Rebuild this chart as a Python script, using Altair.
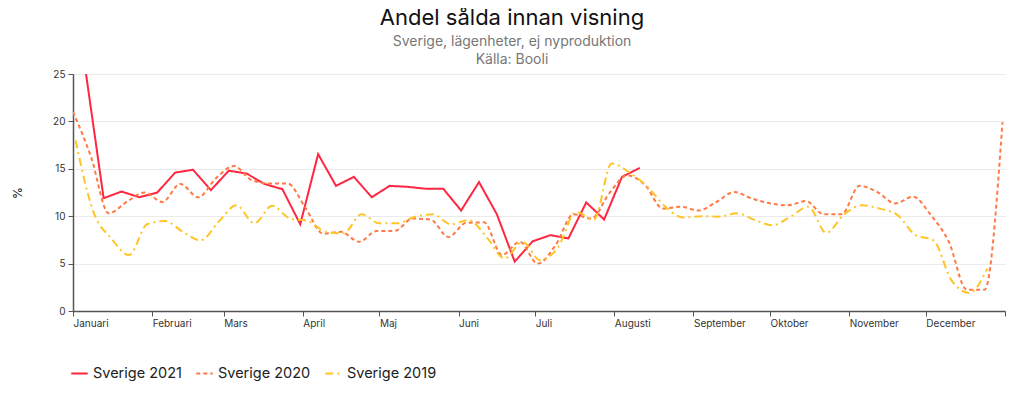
import altair as alt
import pandas as pd

# Serier (veckovärden, andel % sålda innan visning)
serier = ["Sverige 2021", "Sverige 2020", "Sverige 2019"]
farger = ["#ff2640", "#ff7a45", "#ffc425"]
streck = [[1, 0], [4, 3], [8, 4, 2, 4]]

# första veckodatum för varje serie, placerat på en gemensam årsaxel
start_2021 = "2021-01-06"
start_2020 = "2021-01-01"
start_2019 = "2021-01-02"

varden_2021 = [25.2, 11.9, 12.6, 12.0, 12.5, 14.6, 14.9, 12.75, 14.8, 14.5,
               13.4, 12.85, 9.15, 16.55, 13.2, 14.15, 12.0, 13.2, 13.1, 12.9,
               12.9, 10.6, 13.6, 10.2, 5.2, 7.35, 8.0, 7.65, 11.45, 9.65,
               14.15, 15.1]

varden_2020 = [21.0, 16.3, 10.3, 11.5, 12.5, 11.5, 13.4, 12.0, 14.0, 15.3,
               13.8, 13.45, 13.45, 10.9, 8.15, 8.35, 7.3, 8.45, 8.45, 9.75,
               9.65, 7.8, 9.3, 9.35, 5.9, 7.3, 5.0, 6.95, 10.2, 9.75,
               12.4, 14.3, 13.3, 10.8, 11.0, 10.6, 11.5, 12.55, 11.85, 11.35,
               11.15, 11.6, 10.2, 10.2, 13.2, 12.55, 11.35, 12.05, 10.1, 7.3,
               2.25, 2.25, 19.9]

varden_2019 = [18.0, 10.45, 7.65, 5.9, 9.15, 9.5, 8.35, 7.45, 9.4, 11.15,
               9.25, 11.1, 9.75, 9.5, 8.35, 8.2, 10.2, 9.25, 9.25, 9.95,
               10.2, 9.15, 9.6, 7.8, 5.55, 7.3, 5.35, 6.75, 10.45, 9.65,
               15.55, 14.6, 13.1, 11.0, 9.85, 10.0, 9.95, 10.3, 9.6, 9.05,
               9.95, 11.0, 8.25, 10.2, 11.15, 10.8, 10.1, 8.0, 7.45, 3.25,
               1.9, 4.45]

manader = ["Januari", "Februari", "Mars", "April", "Maj", "Juni", "Juli",
           "Augusti", "September", "Oktober", "November", "December"]
y_ticks = [0, 5, 10, 15, 20, 25]


def bygg(serie, start, varden):
    d0 = pd.Timestamp(start)
    return pd.DataFrame({
        "datum": [(d0 + pd.Timedelta(days=7 * i)).strftime("%Y-%m-%d") for i in range(len(varden))],
        "andel": varden,
        "serie": serie,
    })


df = pd.concat([
    bygg(serier[0], start_2021, varden_2021),
    bygg(serier[1], start_2020, varden_2020),
    bygg(serier[2], start_2019, varden_2019),
], ignore_index=True)


def ms(s):
    return int(pd.Timestamp(s, tz="UTC").timestamp() * 1000)


x_domain = [ms("2021-01-01"), ms("2022-01-01")]
x_ticks = [ms(f"2021-{m:02d}-01") for m in range(1, 13)] + [ms("2022-01-01")]
manad_arr = "[" + ",".join(f"'{m}'" for m in manader) + "]"

FONT = "Inter"

x_enc = alt.X(
    "datum:T",
    scale=alt.Scale(type="utc", domain=x_domain),
    axis=alt.Axis(
        values=x_ticks,
        labelExpr=f"utcyear(datum.value) > 2021 ? '' : {manad_arr}[utcmonth(datum.value)]",
        title=None, grid=False, labelAlign="left", labelPadding=2,
        labelOverlap=False, labelFontSize=10, labelColor="#333", labelFont=FONT,
        tickSize=5, tickColor="#555", domainColor="#555", domainWidth=1.5,
    ),
)
y_enc = alt.Y(
    "andel:Q",
    scale=alt.Scale(domain=[0, 25], nice=False),
    axis=alt.Axis(
        values=y_ticks, title="%", titleFontWeight="normal", titleFontSize=12,
        titleColor="#222", titleFont=FONT, titlePadding=28,
        labelFontSize=10, labelColor="#333", labelFont=FONT, labelPadding=3,
        tickSize=5, tickColor="#555", domainColor="#555", domainWidth=1.5,
        gridColor="#ebebeb", gridWidth=1.2,
    ),
)
legend_opts = dict(
    title=None, orient="none", legendX=-3, legendY=290, direction="horizontal",
    symbolType="stroke", symbolSize=272, symbolStrokeWidth=2,
    labelFontSize=14.5, labelColor="#222", labelFont=FONT, labelOffset=4,
    columnPadding=10,
)
color_enc = alt.Color(
    "serie:N",
    scale=alt.Scale(domain=serier, range=farger),
    legend=alt.Legend(**legend_opts),
)
dash_enc = alt.StrokeDash(
    "serie:N",
    scale=alt.Scale(domain=serier, range=streck),
    legend=alt.Legend(**legend_opts),
)

bas = alt.Chart(df).encode(x=x_enc, y=y_enc, color=color_enc, strokeDash=dash_enc)

linje_2021 = bas.transform_filter(alt.datum.serie == serier[0]).mark_line(
    strokeWidth=2, clip=True, interpolate="linear")
linje_ovr = bas.transform_filter(alt.datum.serie != serier[0]).mark_line(
    strokeWidth=2, clip=True, interpolate="monotone")

chart = alt.layer(linje_2021, linje_ovr).properties(
    width=932, height=237,
    autosize=alt.AutoSizeParams(type="none"),
    padding={"left": 65, "top": 66, "right": 10, "bottom": 76},
    title=alt.TitleParams(
        text="Andel sålda innan visning",
        subtitle=["Sverige, lägenheter, ej nyproduktion", "Källa: Booli"],
        font=FONT, fontSize=22, fontWeight="normal", color="#111",
        subtitleFont=FONT, subtitleFontSize=14, subtitleColor="#777",
        subtitlePadding=5, subtitleLineHeight=18,
        anchor="middle", frame="group", dx=-27, offset=1,
    ),
).configure_view(stroke=None)

chart.save("out.html", embed_options={"renderer": "svg", "actions": False})
